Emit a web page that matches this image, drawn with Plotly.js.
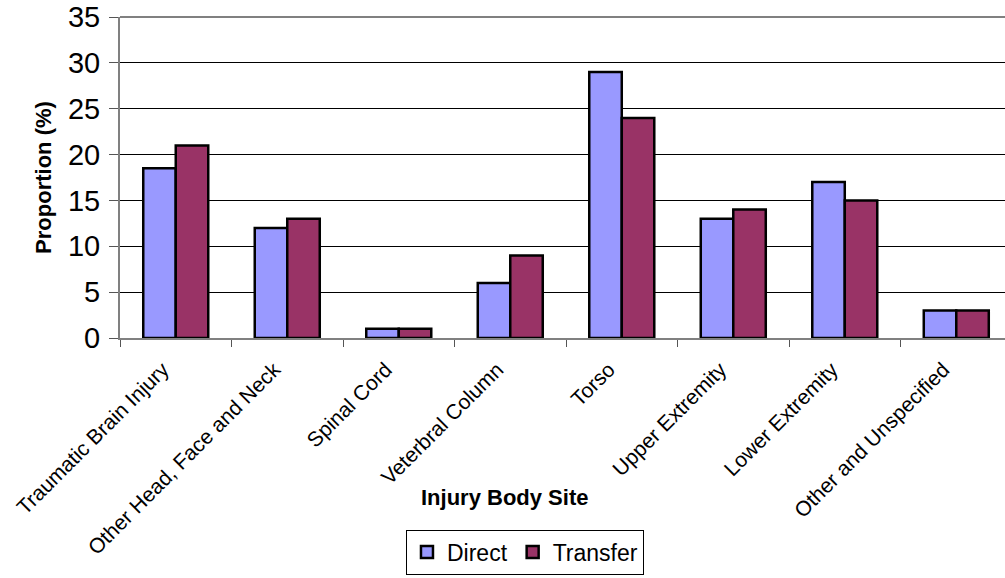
<!DOCTYPE html>
<html>
<head>
<meta charset="utf-8">
<script src="https://cdn.plot.ly/plotly-3.0.1.min.js"></script>
<style>html,body{margin:0;padding:0;background:#fff;}#chart{width:1005px;height:578px;}</style>
</head>
<body>
<div id="chart"></div>
<script>
const categories = ["Traumatic Brain Injury", "Other Head, Face and Neck", "Spinal Cord", "Veterbral Column", "Torso", "Upper Extremity", "Lower Extremity", "Other and Unspecified"];
const directValues = [18.5, 12, 1, 6, 29, 13, 17, 3];
const transferValues = [21, 13, 1, 9, 24, 14, 15, 3];
const yTicks = [0, 5, 10, 15, 20, 25, 30, 35];

const FONT = "Liberation Sans, Arial, sans-serif";

const traces = [
  {type: "bar", name: "Direct", x: categories, y: directValues,
   marker: {color: "#9999FF", line: {color: "#000", width: 2.5}}},
  {type: "bar", name: "Transfer", x: categories, y: transferValues,
   marker: {color: "#993366", line: {color: "#000", width: 2.5}}}
];

const layout = {
  width: 1005, height: 578,
  margin: {l: 120, r: 0, t: 17, b: 240},
  paper_bgcolor: "#fff", plot_bgcolor: "#fff",
  font: {family: FONT, color: "#000"},
  barmode: "group", bargap: 0.417, bargroupgap: 0,
  showlegend: true,
  legend: {orientation: "h", x: 0.4576, xanchor: "center", y: -0.597, yanchor: "top",
           bordercolor: "#000", borderwidth: 1, font: {size: 23, family: FONT, color: "#000"},
           itemwidth: 30, tracegroupgap: 0},
  xaxis: {type: "category", range: [-0.5, 7.437], tickangle: -45,
          ticks: "outside", tickson: "boundaries", ticklen: 7, tickcolor: "#555", tickwidth: 1,
          ticklabelshift: -13, ticklabelstandoff: 9,
          showline: true, linecolor: "#808080", linewidth: 2, showgrid: false,
          tickfont: {size: 21, family: FONT, color: "#000"}, fixedrange: true},
  yaxis: {range: [0, 35], tickvals: yTicks, ticktext: yTicks.map(String),
          ticks: "outside", ticklen: 9, tickcolor: "#555", tickwidth: 1, ticklabelstandoff: 3,
          showline: true, linecolor: "#808080", linewidth: 2,
          showgrid: true, gridcolor: "#000", gridwidth: 1, zeroline: false,
          tickfont: {size: 29, family: FONT, color: "#000"},
          title: {text: "Proportion (%)", font: {size: 22, family: FONT, color: "#000", weight: "bold"}, standoff: 10},
          fixedrange: true},
  shapes: [
    {type: "line", xref: "paper", yref: "paper", x0: 0, x1: 1, y0: 1, y1: 1,
     line: {color: "#808080", width: 2}}
  ],
  annotations: [
    {text: "<b>Injury Body Site</b>", xref: "paper", yref: "paper", x: 0.435, y: -0.4975,
     xanchor: "center", yanchor: "middle", showarrow: false,
     font: {size: 22, family: FONT, color: "#000"}}
  ]
};

Plotly.newPlot("chart", traces, layout, {displayModeBar: false, staticPlot: true});
</script>
</body>
</html>
